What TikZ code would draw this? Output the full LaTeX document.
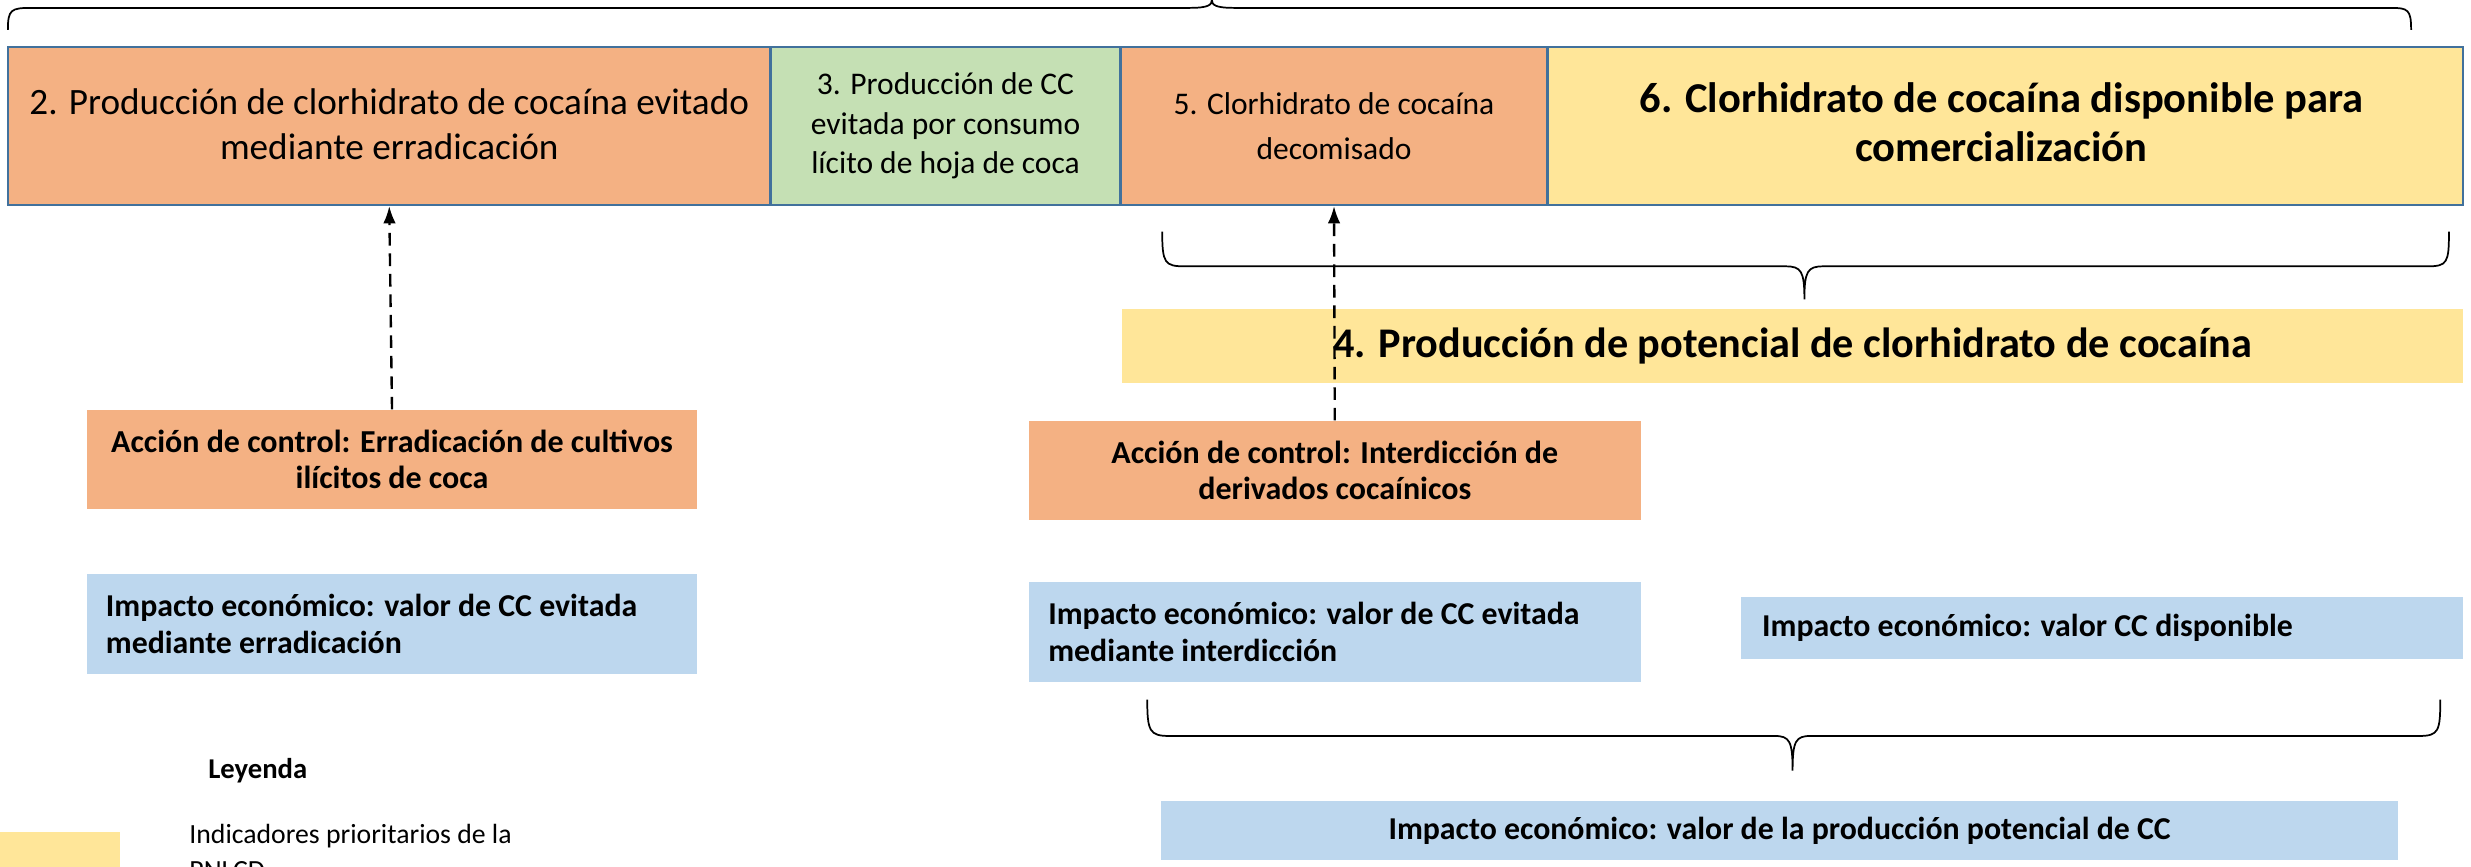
\documentclass[tikz,border=0pt]{standalone}
\usepackage{fontspec}
\setmainfont{Carlito}
\usetikzlibrary{arrows.meta}
\definecolor{orangeF}{HTML}{F4B183}
\definecolor{greenF}{HTML}{C5E0B4}
\definecolor{yellowF}{HTML}{FFE699}
\definecolor{blueF}{HTML}{BDD7EE}
\definecolor{edgeB}{HTML}{41719C}
\begin{document}
\begin{tikzpicture}[x=1pt,y=-1pt,
  topbox/.style={draw=edgeB, line width=1.5pt, inner sep=0pt},
  flatbox/.style={inner sep=0pt, align=center},
  txt/.style={inner sep=0pt, align=center},
  leftbox/.style={inner sep=0pt, align=left},
  brace/.style={draw=black, line width=1.1pt},
  ctrl/.style={draw=black, line width=1.5pt, dash pattern=on 8pt off 5pt, -{Latex[length=11pt,width=8pt]}}
]
\useasboundingbox (0,0) rectangle (1568,550);
\clip (0,0) rectangle (1568,550);

% top row
\node[topbox, fill=orangeF, minimum width=484pt, minimum height=100pt] (b2) at (247,80) {};
\node[txt, font={\fontsize{23.6}{28.4}\selectfont}] (b2t) at (247,78.6)
  {2. Producción de clorhidrato de cocaína evitado\\mediante erradicación};
\node[topbox, fill=greenF, minimum width=222pt, minimum height=100pt] (b3) at (600,80) {};
\node[txt, font={\fontsize{20}{25}\selectfont}] (b3t) at (600,80)
  {3. Producción de CC\\evitada por consumo\\lícito de hoja de coca};
\node[topbox, fill=orangeF, minimum width=271pt, minimum height=100pt] (b5) at (846.5,80) {};
\node[txt, font={\fontsize{20}{29}\selectfont}] (b5t) at (846.5,80)
  {5. Clorhidrato de cocaína\\decomisado};
\node[topbox, fill=yellowF, minimum width=581pt, minimum height=100pt] (b6) at (1272.5,80) {};
\node[txt, font={\bfseries\fontsize{27}{31}\selectfont}] (b6t) at (1270,77.5)
  {6. Clorhidrato de cocaína disponible para\\comercialización};

% braces
\draw[brace] (5,19) .. controls (5,6) and (7,5) .. (20,5) -- (755,5)
  .. controls (767,5) and (769,3) .. (769,0)
  .. controls (769,3) and (771,5) .. (783,5) -- (1517,5)
  .. controls (1528,5) and (1530,6) .. (1530,19);
\draw[brace] (737.5,147) .. controls (737.5,167) and (739,169) .. (752,169) -- (1133,169)
  .. controls (1143,169) and (1145,172) .. (1145,190)
  .. controls (1145,172) and (1147,169) .. (1157,169) -- (1540,169)
  .. controls (1553,169) and (1554,167) .. (1554,147);
\draw[brace] (728,444) .. controls (728,464) and (729.5,467) .. (742,467) -- (1126,467)
  .. controls (1135.5,467) and (1137.5,470) .. (1137.5,489)
  .. controls (1137.5,470) and (1139.5,467) .. (1149,467) -- (1535,467)
  .. controls (1547.5,467) and (1548.5,464) .. (1548.5,444);

% box 4
\node[flatbox, fill=yellowF, minimum width=851pt, minimum height=47pt,
  font={\bfseries\fontsize{26.8}{30}\selectfont}] (b4) at (1137.5,219.5)
  {4. Producción de potencial de clorhidrato de cocaína};

% control actions
\node[flatbox, fill=orangeF, minimum width=387.5pt, minimum height=63pt,
  font={\bfseries\fontsize{20.3}{23}\selectfont}] (acc1) at (248.75,291.5)
  {Acción de control: Erradicación de cultivos\\ilícitos de coca};
\node[flatbox, fill=orangeF, minimum width=388pt, minimum height=63pt,
  font={\bfseries\fontsize{20.3}{23}\selectfont}] (acc2) at (847,298.5)
  {Acción de control: Interdicción de\\derivados cocaínicos};

% impact boxes
\node[fill=blueF, minimum width=387.5pt, minimum height=64pt, inner sep=0pt] (imp1) at (248.75,396) {};
\node[leftbox, anchor=west, font={\bfseries\fontsize{20.2}{23.3}\selectfont}] (imp1t) at (67,396)
  {Impacto económico: valor de CC evitada\\mediante erradicación};
\node[fill=blueF, minimum width=388pt, minimum height=64pt, inner sep=0pt] (imp2) at (847,401) {};
\node[leftbox, anchor=west, font={\bfseries\fontsize{20.2}{23.3}\selectfont}] (imp2t) at (665,401)
  {Impacto económico: valor de CC evitada\\mediante interdicción};
\node[fill=blueF, minimum width=458pt, minimum height=39pt, inner sep=0pt] (imp3) at (1334,398.5) {};
\node[leftbox, anchor=west, font={\bfseries\fontsize{20.2}{23.3}\selectfont}] (imp3t) at (1118,398.5)
  {Impacto económico: valor CC disponible};
\node[flatbox, fill=blueF, minimum width=784.5pt, minimum height=38pt,
  font={\bfseries\fontsize{20.2}{23.3}\selectfont}] (impB) at (1129.25,527)
  {Impacto económico: valor de la producción potencial de CC};

% arrows
\draw[ctrl] (acc1.north) -- (b2.south);
\draw[ctrl] (acc2.north) -- (b5.south);

% legend
\node[leftbox, anchor=west, font={\bfseries\fontsize{18.2}{20}\selectfont}] (ley) at (132,489) {Leyenda};
\fill[yellowF] (0,528) rectangle (76,560);
\node[leftbox, anchor=west, font={\fontsize{17.6}{23}\selectfont}] (legt) at (120,540.5)
  {Indicadores prioritarios de la\\PNLCD};
\end{tikzpicture}
\end{document}
